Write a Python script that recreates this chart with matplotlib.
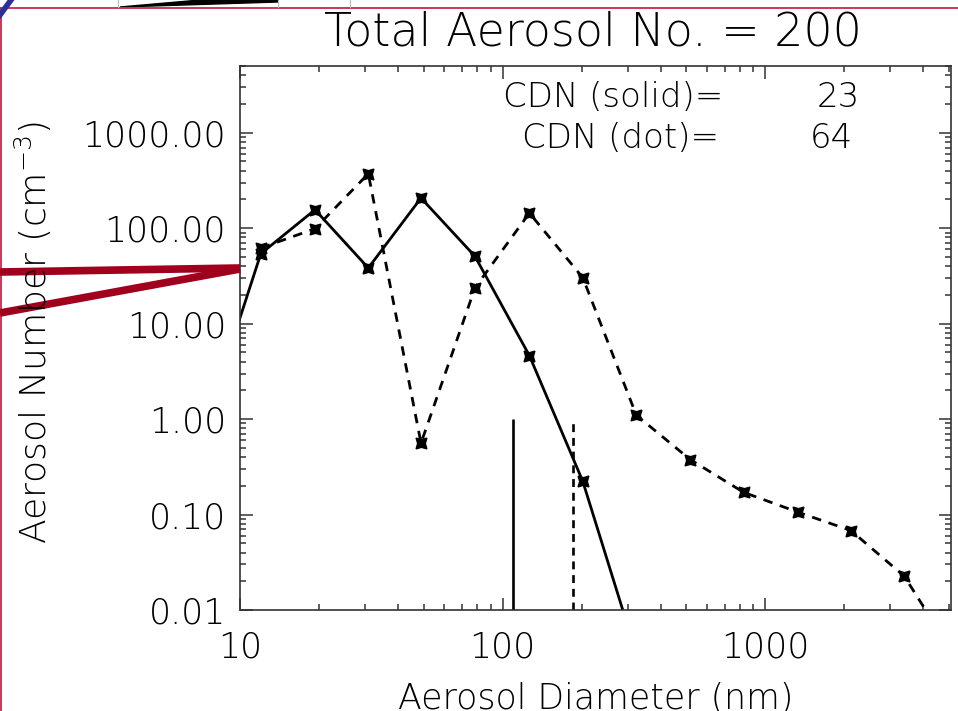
import matplotlib
matplotlib.use("Agg")
import matplotlib.pyplot as plt
from matplotlib.lines import Line2D
from matplotlib.patches import Polygon
from matplotlib.ticker import FixedLocator, FormatStrFormatter, NullFormatter, LogLocator

# ---------------- data ----------------
diameters = [7.5, 12.0, 19.3, 30.8, 48.9, 78.5, 126.5, 202, 323, 518, 827, 1331, 2120, 3386, 5420]
solid_counts = [1.0, 54, 156, 38.3, 207, 50.7, 4.62, 0.223, 0.0035]
dot_counts = [62, 98.8, 372, 0.56, 23.7, 144, 30.3, 1.10, 0.377, 0.171, 0.106, 0.068, 0.0226, 0.0029]
cdn_diam_solid = 109.4
cdn_diam_dot = 185
cdn_solid = 23
cdn_dot = 64
total_no = 200
x_ticks = [10, 100, 1000]
y_ticks = [0.01, 0.1, 1, 10, 100, 1000]

plt.rcParams['font.family'] = ['DejaVu Sans']
plt.rcParams['font.weight'] = 'light'
plt.rcParams['axes.labelweight'] = 'light'
plt.rcParams['mathtext.fontset'] = 'dejavusans'

TXT = '#000000'
W, H = 958, 711
fig = plt.figure(figsize=(W / 100, H / 100), dpi=100)

def fx(px):
    return px / W

def fy(py):
    return 1 - py / H

ax = fig.add_axes([fx(240), fy(610), fx(951) - fx(240), fy(66) - fy(610)])
ax.set_xscale('log')
ax.set_yscale('log')
ax.set_xlim(10, 5100)
ax.set_ylim(0.01, 5000)

ax.plot(diameters[:len(solid_counts)], solid_counts, color='black', lw=2.0,
        marker=(4, 1, 45), markersize=11)
ax.plot(diameters[1:1 + len(dot_counts)], dot_counts, color='black', lw=2.0,
        linestyle=(0, (3.4, 2.8)), marker=(4, 1, 45), markersize=11)
ax.vlines([cdn_diam_solid], 0.01, 1.0, colors='black', lw=1.9)
ax.vlines([cdn_diam_dot], 0.01, 1.0, colors='black', lw=1.9, linestyles=[(0, (3, 2.2))])

ax.xaxis.set_major_locator(FixedLocator(x_ticks))
ax.xaxis.set_major_formatter(FormatStrFormatter('%d'))
ax.xaxis.set_minor_locator(LogLocator(base=10, subs=range(2, 10), numticks=20))
ax.xaxis.set_minor_formatter(NullFormatter())
ax.yaxis.set_major_locator(FixedLocator(y_ticks))
ax.yaxis.set_major_formatter(FormatStrFormatter('%.2f'))
ax.yaxis.set_minor_locator(LogLocator(base=10, subs=range(2, 10), numticks=20))
ax.yaxis.set_minor_formatter(NullFormatter())

ax.tick_params(which='both', direction='in', top=True, right=True, color='#333333', width=1.1)
ax.tick_params(which='major', length=9)
ax.tick_params(which='minor', length=4.5)
ax.tick_params(axis='x', which='major', labelsize=25, pad=15, labelcolor=TXT)
ax.tick_params(axis='y', which='major', labelsize=25, pad=10, labelcolor=TXT)
for s in ax.spines.values():
    s.set_linewidth(1.2)
    s.set_color('#333333')

fig.text(fx(593), fy(45), f'Total Aerosol No. = {total_no}', ha='center', va='baseline',
         fontsize=33, color=TXT)
ax.set_xlabel('Aerosol Diameter (nm)', fontsize=25, color=TXT, labelpad=12)
fig.text(fx(33), fy(332), r'Aerosol Number (cm$^{-3}$)', rotation=90, ha='center', va='center',
         fontsize=26, color=TXT)
fig.text(fx(503), fy(107), 'CDN (solid)=', ha='left', va='baseline', fontsize=24.5, color=TXT)
fig.text(fx(860), fy(107), f'{cdn_solid}', ha='right', va='baseline', fontsize=24.5, color=TXT)
fig.text(fx(522), fy(148), 'CDN (dot)=', ha='left', va='baseline', fontsize=24.5, color=TXT)
fig.text(fx(853), fy(148), f'{cdn_dot}', ha='right', va='baseline', fontsize=24.5, color=TXT)

# slide decorations
fig.add_artist(Line2D([fx(0), fx(958)], [fy(8), fy(8)], color='#C8284A', lw=1.3, transform=fig.transFigure))
fig.add_artist(Line2D([fx(1), fx(1)], [fy(8), fy(711)], color='#C8284A', lw=1.3, transform=fig.transFigure))
fig.add_artist(Line2D([fx(0), fx(11)], [fy(15), fy(0)], color='#2B2F9A', lw=4, transform=fig.transFigure))
fig.add_artist(Line2D([fx(0), fx(240)], [fy(272), fy(268)], color='#A0001E', lw=5.5,
                      solid_capstyle='butt', transform=fig.transFigure))
fig.add_artist(Line2D([fx(0), fx(240)], [fy(313), fy(269)], color='#A0001E', lw=5.5,
                      solid_capstyle='butt', transform=fig.transFigure))
fig.add_artist(Polygon([[fx(120), fy(7)], [fx(200), fy(0)], [fx(278), fy(0)], [fx(278), fy(2)]],
                       closed=True, color='black', transform=fig.transFigure))
for gx in [118, 278, 350]:
    fig.add_artist(Line2D([fx(gx), fx(gx)], [fy(0), fy(7)], color='#BBBBBB', lw=0.8, transform=fig.transFigure))

fig.savefig('out.png', dpi=100)
